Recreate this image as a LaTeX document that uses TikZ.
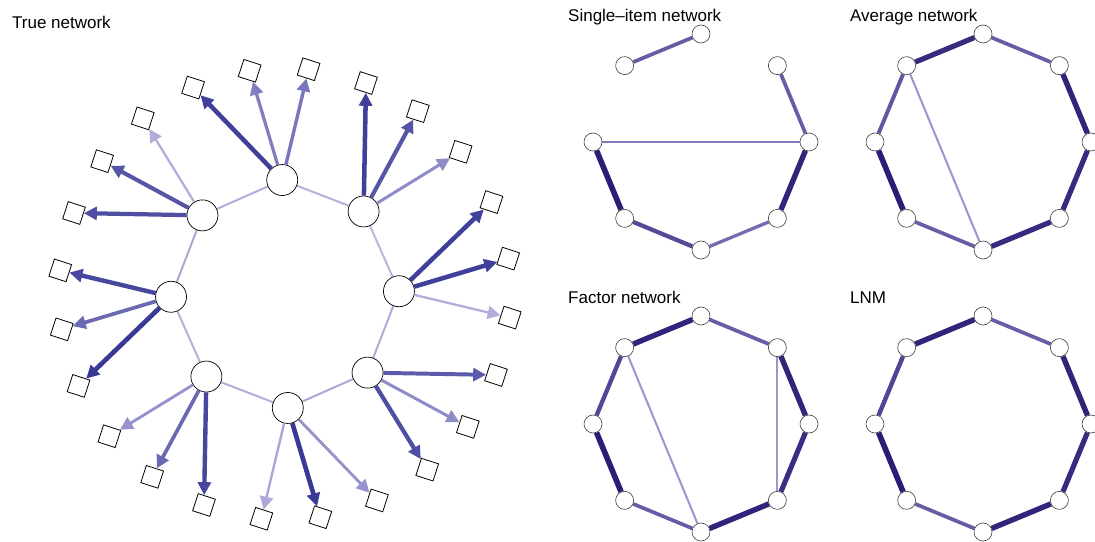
\documentclass[tikz,border=0pt]{standalone}
\usepackage{fontspec}
\setmainfont{Liberation Sans}
\usetikzlibrary{calc,arrows.meta}

\definecolor{loaddark}{RGB}{50,50,146}
\definecolor{loadlight}{RGB}{192,188,228}
\definecolor{linkdark}{RGB}{44,28,118}
\definecolor{linklight}{RGB}{176,172,222}

\pgfdeclarelayer{background}
\pgfsetlayers{background,main}

\begin{document}
\begin{tikzpicture}
      [x=1pt, y=1pt,
        >={Triangle[length=13pt,width=13pt]},
        title/.style={anchor=base west, inner sep=0pt, font=\fontsize{17}{20}\selectfont},
        hub/.style={circle, draw=black, fill=white, line width=0.7pt,
          minimum size=31pt, inner sep=0pt},
        item/.style={rectangle, draw=black, fill=white, line width=0.8pt,
          minimum size=18pt, inner sep=0pt, rotate=-18},
        vertex/.style={circle, draw=black!75, fill=white, line width=0.6pt,
          minimum size=18pt, inner sep=0pt},
        load/.style={draw=loaddark!#1!loadlight, line width={2pt+0.028pt*#1}, ->},
        ring/.style={draw=loaddark!#1!loadlight, line width=2pt},
        link/.style={draw=linkdark!#1!linklight, line width={1.4pt+0.042pt*#1}}]
      \useasboundingbox (0,0) rectangle (1095,541);
      \clip (0,0) rectangle (1095,541);

      % true network: hubs and items
      \coordinate (true) at (285,247);
      \node[title] (titletrue) at (12,512) {True network};
      \foreach \k in {0,...,7}
        \node[hub] (h\k) at ($(true)+(91.4+45*\k:114)$) {};
      \foreach \i in {0,...,23}
        \node[item] (s\i) at ($(true)+(84+15*\i:226)$) {};

      \begin{pgfonlayer}{background}
        \foreach \k/\w in {0/10,1/15,2/8,3/10,4/15,5/12,6/5,7/8} {
          \pgfmathtruncatemacro\n{mod(\k+1,8)}
          \draw[ring=\w] (h\k) -- (h\n);
        }
      \end{pgfonlayer}
      \foreach \w [count=\i from 0] in
        {50,45,90,10,75,80,85,60,95,30,60,85,15,95,30,80,35,70,10,90,90,35,75,90} {
        \pgfmathtruncatemacro\k{\i/3}
        \draw[load=\w] (h\k) -- (s\i);
      }

      % estimated networks
      \node[title] (titlesi) at (568,519) {Single–item network};
      \node[title] (titleav) at (850,519) {Average network};
      \node[title] (titlefa) at (568,237) {Factor network};
      \node[title] (titleln) at (850,237) {LNM};
      \foreach \net/\cx/\cy in {si/701/399, av/983/399, fa/701/117, ln/983/117}
        \foreach \j in {0,...,7}
          \node[vertex] (\net\j) at ($(\cx,\cy)+(90-45*\j:108)$) {};

      \begin{pgfonlayer}{background}
        \foreach \a/\b/\w in {7/0/55,1/2/55,6/2/35,6/5/100,5/4/68,4/3/45,3/2/95}
          \draw[link=\w] (si\a) -- (si\b);
        \foreach \a/\b/\w in {7/0/90,0/1/55,1/2/95,2/3/90,3/4/90,4/5/55,5/6/100,6/7/60,7/4/15}
          \draw[link=\w] (av\a) -- (av\b);
        \foreach \a/\b/\w in {7/0/95,0/1/55,1/2/95,2/3/88,3/4/95,4/5/55,5/6/100,6/7/70,7/4/15,1/3/15}
          \draw[link=\w] (fa\a) -- (fa\b);
        \foreach \a/\b/\w in {7/0/95,0/1/55,1/2/95,2/3/90,3/4/95,4/5/55,5/6/100,6/7/72}
          \draw[link=\w] (ln\a) -- (ln\b);
      \end{pgfonlayer}
    \end{tikzpicture}
\end{document}
